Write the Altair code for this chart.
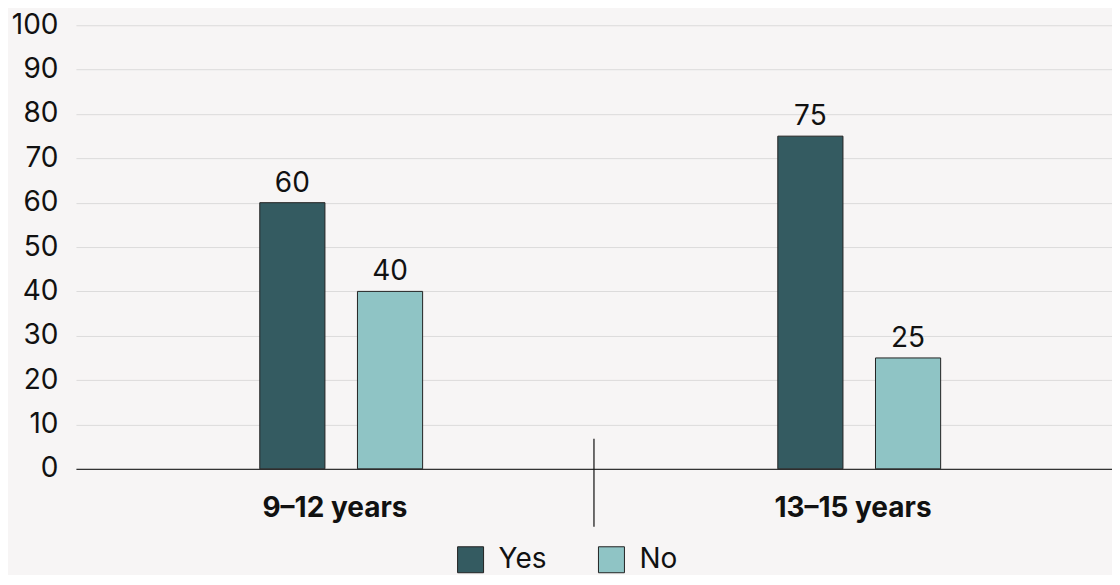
import altair as alt
import pandas as pd

age_groups = ["9–12 years", "13–15 years"]
answers = ["Yes", "No"]
yes_values = [60, 75]
no_values = [40, 25]
y_ticks = list(range(0, 101, 10))
bar_colors = ["#345b61", "#8fc4c5"]

rows = []
for g, yv, nv in zip(age_groups, yes_values, no_values):
    rows.append({"group": g, "answer": "Yes", "value": yv})
    rows.append({"group": g, "answer": "No", "value": nv})
df = pd.DataFrame(rows)

FONT = "Inter"
W, H = 1037, 444
TXT = "#111111"

x_enc = alt.X(
    "group:N", sort=age_groups, title=None,
    scale=alt.Scale(paddingInner=0, paddingOuter=0),
    axis=alt.Axis(labelAngle=0, labelFontWeight="bold", labelFontSize=28, labelColor=TXT,
                  labelPadding=26, ticks=False, domain=True, domainColor="#333333",
                  domainWidth=1.2, grid=False, labelFont=FONT, labelBaseline="top"),
)
xo_enc = alt.XOffset("answer:N", sort=answers,
                     scale=alt.Scale(range=[184, 347], paddingInner=0.333, paddingOuter=0))
y_enc = alt.Y(
    "value:Q", title=None,
    scale=alt.Scale(domain=[0, 100], nice=False),
    axis=alt.Axis(values=y_ticks, labelFontSize=28, labelFont=FONT, labelColor=TXT,
                  labelPadding=18, ticks=False, domain=False, grid=True,
                  gridColor="#dcdbdb", gridWidth=1),
)

base = alt.Chart(df)

bars = base.mark_bar(stroke="#222222", strokeWidth=1).encode(
    x=x_enc, xOffset=xo_enc, y=y_enc,
    color=alt.Color(
        "answer:N", sort=answers,
        scale=alt.Scale(domain=answers, range=bar_colors),
        legend=alt.Legend(orient="none", legendX=381, legendY=521, direction="horizontal",
                          title=None, symbolType="square", symbolSize=676,
                          symbolStrokeColor="#222222", symbolStrokeWidth=1,
                          labelFontSize=28, labelFont=FONT, labelColor=TXT,
                          columnPadding=50, labelOffset=14),
    ),
)

labels = base.mark_text(baseline="bottom", dy=-5, fontSize=28, font=FONT, color=TXT).encode(
    x=alt.X("group:N", sort=age_groups), xOffset=alt.XOffset("answer:N", sort=answers),
    y=alt.Y("value:Q"), text=alt.Text("value:Q"),
)

sep = alt.Chart(pd.DataFrame({"s": [0]})).mark_rule(color="#111111", strokeWidth=1.2).encode(
    x=alt.value(W / 2), y=alt.value(H - 30), y2=alt.value(H + 58)
)

chart = alt.layer(bars, labels, sep).properties(
    width=W, height=H,
    background="#f7f5f5",
    padding={"left": 3, "top": 3, "right": 0, "bottom": 0},
).configure_view(stroke=None)

chart.save("out.html", embed_options={"renderer": "svg", "actions": False})
